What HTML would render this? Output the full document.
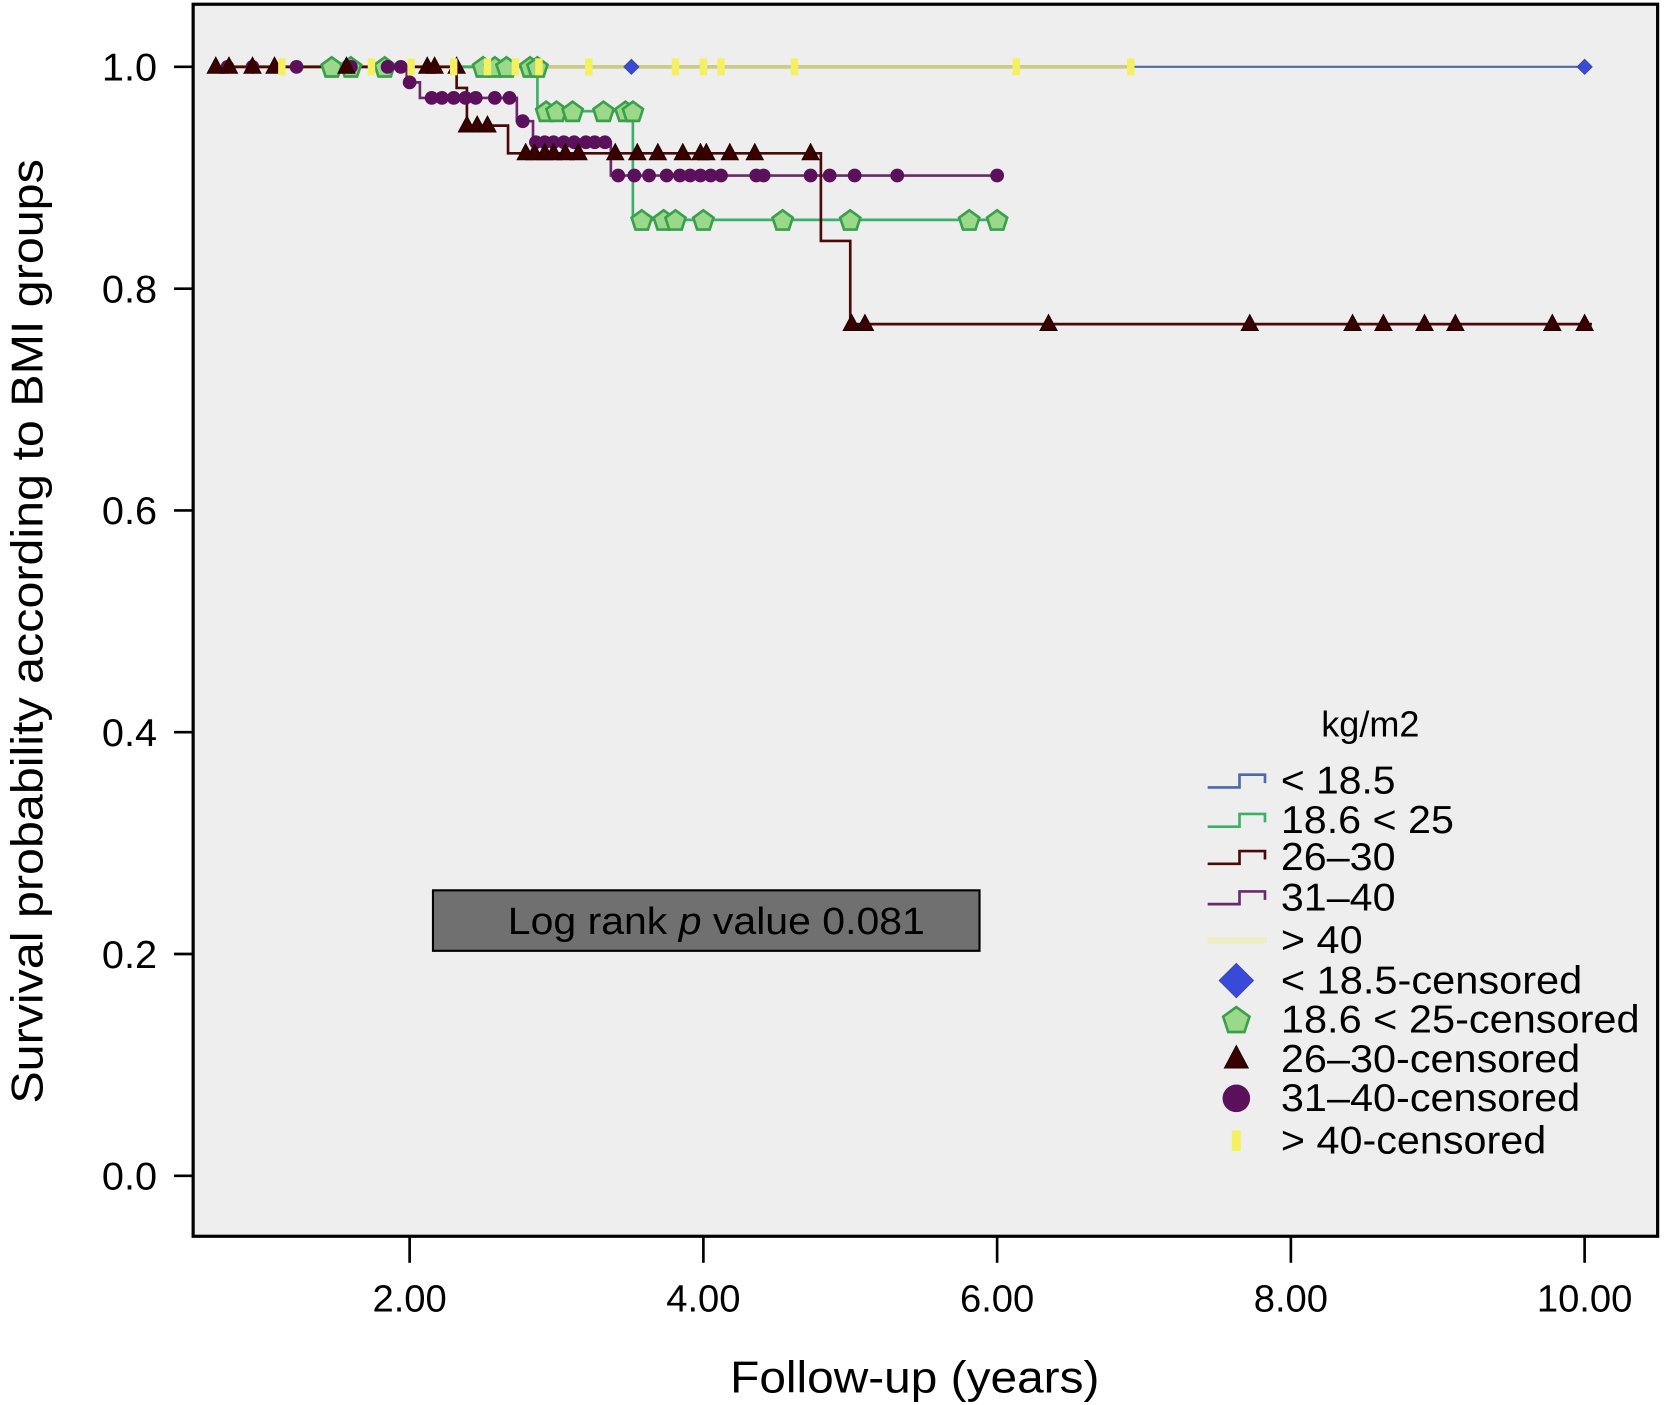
<!DOCTYPE html>
<html><head><meta charset="utf-8"><style>
html,body{margin:0;padding:0;background:#fff}
svg{display:block}
text{font-family:"Liberation Sans",Arial,sans-serif;fill:#000}
</style></head><body>
<svg id="chart" width="1664" height="1405" viewBox="0 0 1568 1324" preserveAspectRatio="none" xmlns="http://www.w3.org/2000/svg">
<rect x="182" y="4" width="1380" height="1161" fill="#eeeeee"/>
<g id="axes"></g>
<g id="series"></g>
<g id="marks"></g>
<rect x="408" y="839" width="515" height="57" fill="#707070" stroke="#000" stroke-width="2"/>
<text x="675" y="880" font-size="36" text-anchor="middle" textLength="393" lengthAdjust="spacingAndGlyphs">Log rank <tspan font-style="italic">p</tspan> value 0.081</text>
<text x="862" y="1312" font-size="42" text-anchor="middle" textLength="348" lengthAdjust="spacingAndGlyphs">Follow-up (years)</text>
<text transform="translate(40,595) rotate(-90)" font-size="42" text-anchor="middle" textLength="890" lengthAdjust="spacingAndGlyphs">Survival probability according to BMI groups</text>
<g id="legend"></g>
<rect x="182" y="4" width="1380" height="1161" fill="none" stroke="#000" stroke-width="3"/>
</svg>
<script>
const xTicks = [2, 4, 6, 8, 10];
const xTickLabels = ["2.00", "4.00", "6.00", "8.00", "10.00"];
const yTicks = [0, 0.2, 0.4, 0.6, 0.8, 1.0];
const yTickLabels = ["0.0", "0.2", "0.4", "0.6", "0.8", "1.0"];

const seriesNames = ["< 18.5", "18.6 < 25", "26–30", "31–40", "> 40"];
const blueStepT = [0.68, 10.0];
const blueStepS = [1.0, 1.0];
const greenStepT = [1.47, 2.87, 3.52, 6.02];
const greenStepS = [1.0, 0.96, 0.862, 0.862];
const redStepT = [0.68, 2.32, 2.39, 2.67, 4.8, 5.0, 10.05];
const redStepS = [1.0, 0.981, 0.947, 0.922, 0.843, 0.768, 0.768];
const purpleStepT = [0.75, 1.98, 2.07, 2.73, 2.84, 3.37, 6.02];
const purpleStepS = [1.0, 0.986, 0.972, 0.951, 0.932, 0.902, 0.902];
const yellowStepT = [0.68, 6.91];
const yellowStepS = [1.0, 1.0];

const blueCensT = [3.51, 10.0];
const blueCensS = [1.0, 1.0];
const greenCensT = [1.47,1.6,1.83,2.5,2.58,2.66,2.82,2.87, 2.93,3.0,3.11,3.32,3.47,3.52, 3.58,3.73,3.81,4.0,4.54,5.0,5.81,6.0];
const greenCensS = [1,1,1,1,1,1,1,1, 0.96,0.96,0.96,0.96,0.96,0.96, 0.862,0.862,0.862,0.862,0.862,0.862,0.862,0.862];
const redCensT = [0.68,0.77,0.93,1.08,1.57,2.12,2.17,2.32, 2.39,2.46,2.53, 2.79,2.85,2.92,2.98,3.06,3.15,3.4,3.55,3.69,3.86,3.98,4.02,4.18,4.35,4.73, 5.01,5.1,6.35,7.72,8.42,8.63,8.91,9.12,9.78,10.0];
const redCensS = [1,1,1,1,1,1,1,1, 0.947,0.947,0.947, 0.922,0.922,0.922,0.922,0.922,0.922,0.922,0.922,0.922,0.922,0.922,0.922,0.922,0.922,0.922, 0.768,0.768,0.768,0.768,0.768,0.768,0.768,0.768,0.768,0.768];
const purpleCensT = [0.76,0.93,1.23,1.6,1.85,1.94, 2.0, 2.15,2.22,2.3,2.38,2.45,2.58,2.68, 2.77, 2.86,2.92,2.98,3.05,3.12,3.2,3.26,3.33, 3.42,3.53,3.63,3.75,3.84,3.91,3.98,4.05,4.12,4.36,4.41,4.73,4.86,5.03,5.32,6.0];
const purpleCensS = [1,1,1,1,1,1, 0.986, 0.972,0.972,0.972,0.972,0.972,0.972,0.972, 0.951, 0.932,0.932,0.932,0.932,0.932,0.932,0.932,0.932, 0.902,0.902,0.902,0.902,0.902,0.902,0.902,0.902,0.902,0.902,0.902,0.902,0.902,0.902,0.902,0.902];
const yellowCensT = [1.13,1.74,2.01,2.3,2.53,2.72,2.88,3.22,3.81,4.0,4.12,4.62,6.13,6.91];
const yellowCensS = [1,1,1,1,1,1,1,1,1,1,1,1,1,1];

const NS = "http://www.w3.org/2000/svg";
function xs(t){ return 386 + (t - 2) * 138.4; }
function ys(p){ return 1108 - p * 1045; }
function mk(tag, attrs, parent){
  const e = document.createElementNS(NS, tag);
  for (const k in attrs) e.setAttribute(k, attrs[k]);
  parent.appendChild(e);
  return e;
}
const axes = document.getElementById('axes');
yTicks.forEach((v, i) => {
  const l = mk('line', {x1:164, x2:182, y1:ys(v), y2:ys(v), stroke:'#000', 'stroke-width':2.5}, axes);
  
  
  const t = mk('text', {x:148, y:ys(v)+13, 'font-size':37, 'text-anchor':'end', textLength:52, lengthAdjust:'spacingAndGlyphs'}, axes);
  
  
  t.textContent = yTickLabels[i];
});
xTicks.forEach((v, i) => {
  const l = mk('line', {x1:xs(v), x2:xs(v), y1:1165, y2:1190, stroke:'#000', 'stroke-width':2.5}, axes);
  
  
  const t = mk('text', {x:xs(v), y:1236, 'font-size':36, 'text-anchor':'middle'}, axes);
  
  
  t.textContent = xTickLabels[i];
});

const seriesG = document.getElementById('series');
function stepPath(T, S){
  let d = 'M' + xs(T[0]) + ' ' + ys(S[0]);
  for (let i = 1; i < T.length; i++){
    d += ' H' + xs(T[i]) + ' V' + ys(S[i]);
  }
  return d;
}
const stepDefs = [
  [blueStepT, blueStepS, '#4a6aa8', 2, 'step-line-under-18-5'],
  [yellowStepT, yellowStepS, '#cccc88', 3.5, 'step-line-over-40'],
  [greenStepT, greenStepS, '#3cb06a', 2.5, 'step-line-18-6-25'],
  [purpleStepT, purpleStepS, '#6a2a6a', 2.5, 'step-line-31-40'],
  [redStepT, redStepS, '#4a0a0a', 2.5, 'step-line-26-30']
];
stepDefs.forEach(s => {
  const p = mk('path', {d:stepPath(s[0], s[1]), fill:'none', stroke:s[2], 'stroke-width':s[3]}, seriesG);
  
  
});

const marksG = document.getElementById('marks');
function pent(cx, cy, r){
  let pts = [];
  for (let k = 0; k < 5; k++){ const a = -Math.PI/2 + k*2*Math.PI/5; pts.push((cx + r*Math.cos(a)).toFixed(1) + ',' + (cy + r*Math.sin(a)).toFixed(1)); }
  return pts.join(' ');
}
function drawMarker(kind, cx, cy, parent, big){
  const s = big || 1;
  if (kind === 'diamond') return mk('polygon', {points:`${cx},${cy-7*s} ${cx+7*s},${cy} ${cx},${cy+7*s} ${cx-7*s},${cy}`, fill:'#3a4ad8', stroke:'#3a4a98', 'stroke-width':1}, parent);
  if (kind === 'pent') return mk('polygon', {points:pent(cx, cy+1, 10*s), fill:'#9ad88a', stroke:'#3aa04a', 'stroke-width':2.5}, parent);
  if (kind === 'tri') return mk('polygon', {points:`${cx},${cy-9*s} ${cx+8*s},${cy+6*s} ${cx-8*s},${cy+6*s}`, fill:'#3a0000', stroke:'#200000', 'stroke-width':1}, parent);
  if (kind === 'circ') return mk('circle', {cx:cx, cy:cy, r:6.5*s, fill:'#5a105a'}, parent);
  return mk('rect', {x:cx-3.5*s, y:cy-8*s, width:7*s, height:16*s, fill:'#f4f060'}, parent);
}
const markDefs = [
  [greenCensT, greenCensS, 'pent', 'censor-18-6-25'],
  [purpleCensT, purpleCensS, 'circ', 'censor-31-40'],
  [redCensT, redCensS, 'tri', 'censor-26-30'],
  [yellowCensT, yellowCensS, 'bar', 'censor-over-40'],
  [blueCensT, blueCensS, 'diamond', 'censor-under-18-5']
];
markDefs.forEach(m => {
  m[0].forEach((t, i) => {
    const e = drawMarker(m[2], xs(t), ys(m[1][i]), marksG);
    
    
  });
});

const lg = document.getElementById('legend');
const kg = mk('text', {x:1245, y:694, 'font-size':34}, lg);


kg.textContent = 'kg/m2';
const legendColors = ['#4a6aa8', '#3cb06a', '#4a0a0a', '#6a2a6a', '#eeeec4'];
const legendBase = [748, 785, 820, 858, 898];
const legendWidths = [108, 163, 108, 108, 77];
seriesNames.forEach((n, i) => {
  const y = legendBase[i] - 12;
  let p;
  if (i < 4) p = mk('path', {d:`M1138 ${y+6} H1168 V${y-6} H1192 V${y+2}`, fill:'none', stroke:legendColors[i], 'stroke-width':2.5}, lg);
  else p = mk('rect', {x:1138, y:y-3, width:56, height:6, fill:legendColors[i]}, lg);
  
  
  const t = mk('text', {x:1207, y:legendBase[i], 'font-size':37, textLength:legendWidths[i], lengthAdjust:'spacingAndGlyphs'}, lg);
  
  
  t.textContent = n;
});
const censKinds = ['diamond', 'pent', 'tri', 'circ', 'bar'];
const censBase = [936, 973, 1010, 1047, 1087];
const censScale = [2.3, 1.3, 1.4, 2.0, 1.2];
const censWidths = [284, 338, 282, 282, 250];
seriesNames.forEach((n, i) => {
  const e = drawMarker(censKinds[i], 1165, censBase[i]-12, lg, censScale[i]);
  
  
  const t = mk('text', {x:1207, y:censBase[i], 'font-size':37, textLength:censWidths[i], lengthAdjust:'spacingAndGlyphs'}, lg);
  
  
  t.textContent = n + '-censored';
});
</script>
</body></html>
